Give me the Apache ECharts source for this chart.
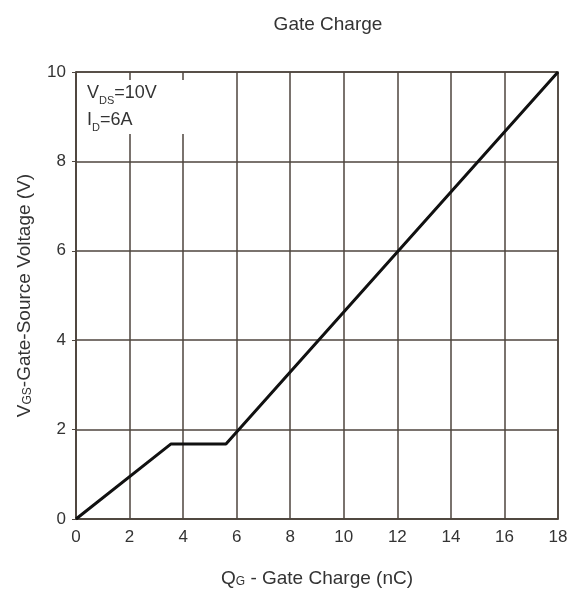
<!DOCTYPE html>
<html>
<head>
<meta charset="utf-8">
<style>
  html, body { margin: 0; padding: 0; background: #fff; }
  #chart { width: 576px; height: 603px; }
</style>
<script src="https://cdn.jsdelivr.net/npm/echarts@6/dist/echarts.min.js"></script>
</head>
<body>
<div id="chart"></div>
<script>
// gate charge curve
const qg = [0, 3.55, 5.6, 18];      // nC
const vgs = [0, 1.68, 1.68, 10];    // V

const xTicks = [0, 2, 4, 6, 8, 10, 12, 14, 16, 18];
const yTicks = [0, 2, 4, 6, 8, 10];

const gridColor = '#4e453e';
const textColor = '#333';
const font = 'Liberation Sans, Arial, sans-serif';

const chart = echarts.init(document.getElementById('chart'));

const option = {
  backgroundColor: '#fff',
  animation: false,
  title: {
    text: 'Gate Charge',
    left: 323,
    textAlign: 'center',
    top: 10,
    textStyle: { color: textColor, fontSize: 19, fontWeight: 'normal', fontFamily: font }
  },
  grid: {
    left: 76, right: 18, top: 72, bottom: 84,
    show: true, borderColor: gridColor, borderWidth: 1.5
  },
  xAxis: {
    type: 'value',
    min: 0, max: 18, interval: 2,
    name: '{m|Q}{s|G}{m| - Gate Charge (nC)}',
    nameLocation: 'middle',
    nameGap: 50,
    nameTextStyle: {
      rich: {
        m: { fontSize: 19, color: textColor, fontFamily: font },
        s: { fontSize: 12, color: textColor, fontFamily: font, verticalAlign: 'bottom', padding: [6, 0, 0, 0] }
      }
    },
    axisLine: { lineStyle: { color: gridColor, width: 1.5 } },
    axisTick: { show: false },
    splitLine: { lineStyle: { color: gridColor, width: 1.5 } },
    axisLabel: {
      color: textColor, fontSize: 17, fontFamily: font, margin: 10,
      formatter: v => xTicks.includes(v) ? String(v) : ''
    }
  },
  yAxis: {
    type: 'value',
    min: 0, max: 10, interval: 2,
    name: '{m|V}{s|GS}{m|-Gate-Source Voltage (V)}',
    nameLocation: 'middle',
    nameRotate: 90,
    nameGap: 42,
    nameTextStyle: {
      rich: {
        m: { fontSize: 19, color: textColor, fontFamily: font },
        s: { fontSize: 12, color: textColor, fontFamily: font, verticalAlign: 'bottom', padding: [6, 0, 0, 0] }
      }
    },
    axisLine: { show: true, lineStyle: { color: gridColor, width: 1.5 } },
    axisTick: { show: true, length: 4, lineStyle: { color: gridColor } },
    splitLine: { lineStyle: { color: gridColor, width: 1.5 } },
    axisLabel: {
      color: textColor, fontSize: 17, fontFamily: font, margin: 10,
      formatter: v => yTicks.includes(v) ? String(v) : ''
    }
  },
  graphic: [
    {
      // white patch behind the test conditions, it hides the grid lines there
      type: 'rect',
      left: 84, top: 80, z: 9,
      shape: { width: 106, height: 54 },
      style: { fill: '#fff' }
    },
    {
      type: 'text',
      left: 87,
      top: 84,
      z: 10,
      style: {
        text: '{m|V}{s|DS}{m|=10V}\n{m|I}{s|D}{m|=6A}',
        rich: {
          m: { fontSize: 18, fill: textColor, fontFamily: font, lineHeight: 27 },
          s: { fontSize: 11, fill: textColor, fontFamily: font, lineHeight: 27, verticalAlign: 'bottom' }
        }
      }
    }
  ],
  series: [{
    type: 'line',
    data: qg.map((x, i) => [x, vgs[i]]),
    symbol: 'none',
    z: 5,
    lineStyle: { color: '#111', width: 3 }
  }]
};

chart.setOption(option);
</script>
</body>
</html>
